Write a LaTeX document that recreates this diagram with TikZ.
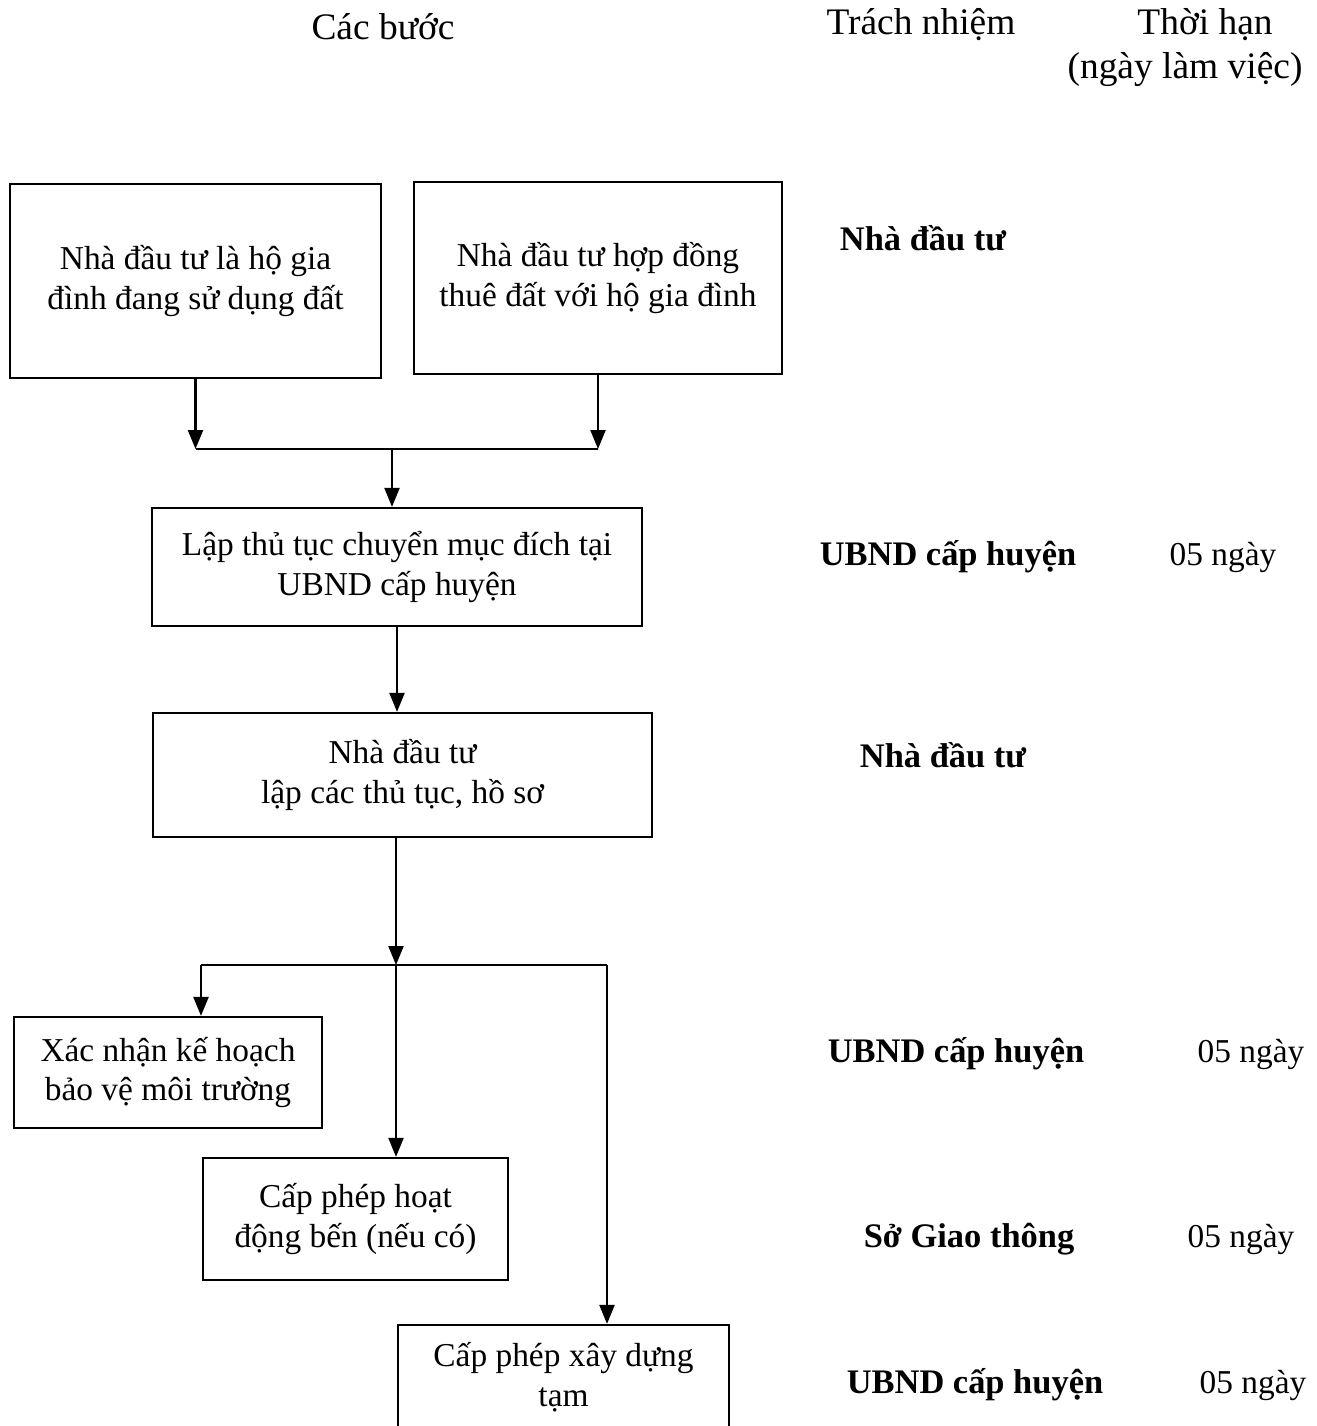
\documentclass[tikz,border=0pt]{standalone}
\usepackage{fontspec}
\setmainfont{Liberation Serif}
\usetikzlibrary{arrows.meta, positioning}

\begin{document}
\begin{tikzpicture}[x=0.02cm, y=-0.02cm]

\tikzset{stepbox/.style = {draw, line width=1.3pt, align=center, inner sep=0pt, font=\fontsize{19}{22.7}\selectfont}}
\tikzset{headtext/.style = {align=center, inner sep=0pt, font=\fontsize{21.3}{25}\selectfont}}
\tikzset{roletext/.style = {inner sep=0pt, font=\fontsize{19.6}{23}\selectfont\bfseries}}
\tikzset{daytext/.style = {inner sep=0pt, font=\fontsize{19}{22.7}\selectfont}}
\tikzset{line/.style = {line width=1.3pt}}
\tikzset{flow/.style = {line, -{Triangle[width=0.3cm,length=0.38cm]}}}

\useasboundingbox (0,0) rectangle (1316,1426);
\clip (0,0) rectangle (1316,1426);

% headers
\node[headtext] (hbuoc) at (383,27) {Các bước};
\node[headtext] (htn) at (921,25) {Trách nhiệm};
\node[headtext] (hth) at (1205,25) {Thời hạn};
\node[headtext] (hngay) at (1185,70) {(ngày làm việc)};

% steps
\node[stepbox, minimum width=7.42cm, minimum height=3.88cm] (hgd) at (195.5,281) {Nhà đầu tư là hộ gia\\đình đang sử dụng đất};
\node[stepbox, minimum width=7.36cm, minimum height=3.84cm] (thue) at (598,278) {Nhà đầu tư hợp đồng\\thuê đất với hộ gia đình};
\node[stepbox, minimum width=9.8cm, minimum height=2.36cm] (cmd) at (397,567) {Lập thủ tục chuyển mục đích tại\\UBND cấp huyện};
\node[stepbox, minimum width=9.98cm, minimum height=2.48cm] (ndt) at (402.5,775) {Nhà đầu tư\\lập các thủ tục, hồ sơ};
\node[stepbox, minimum width=6.16cm, minimum height=2.22cm] (xn) at (168,1072.5) {Xác nhận kế hoạch\\bảo vệ môi trường};
\node[stepbox, minimum width=6.1cm, minimum height=2.44cm] (ben) at (355.5,1219) {Cấp phép hoạt\\động bến (nếu có)};
\node[stepbox, minimum width=6.62cm, minimum height=2.08cm] (xd) at (563.5,1377) {Cấp phép xây dựng\\tạm};

% responsibility and time
\node[roletext] (r1) at (923,238) {Nhà đầu tư};
\node[roletext] (r2) at (948,557) {UBND cấp huyện};
\node[daytext] (d2) at (1223,557) {05 ngày};
\node[roletext] (r3) at (943,755) {Nhà đầu tư};
\node[roletext] (r4) at (956,1054) {UBND cấp huyện};
\node[daytext] (d4) at (1251,1054) {05 ngày};
\node[roletext] (r5) at (969,1239) {Sở Giao thông};
\node[daytext] (d5) at (1241,1239) {05 ngày};
\node[roletext] (r6) at (975,1385) {UBND cấp huyện};
\node[daytext] (d6) at (1253,1385) {05 ngày};

% junctions
\coordinate (j1) at (392,449);
\coordinate (j2) at (396,965);
\coordinate (j3) at (607,965);
\coordinate (j4) at (201,965);

%edges
\draw[flow] (hgd.south) -- (hgd.south |- j1);
\draw[flow] (thue.south) -- (thue.south |- j1);
\draw[line] (hgd.south |- j1) -- (thue.south |- j1);
\draw[flow] (j1) -- (j1 |- cmd.north);
\draw[flow] (cmd.south) -- (cmd.south |- ndt.north);
\draw[flow] (j2 |- ndt.south) -- (j2);
\draw[line] (j4) -- (j3);
\draw[flow] (j4) -- (j4 |- xn.north);
\draw[flow] (j2) -- (j2 |- ben.north);
\draw[flow] (j3) -- (j3 |- xd.north);
\end{tikzpicture}
\end{document}
